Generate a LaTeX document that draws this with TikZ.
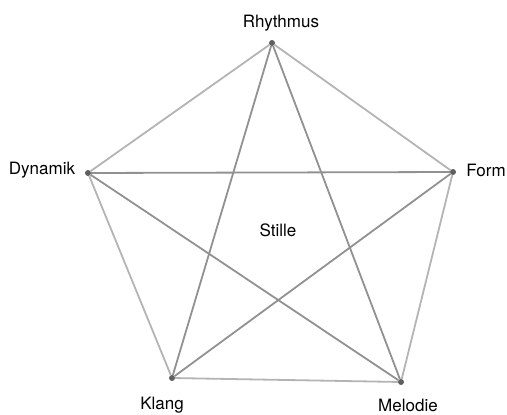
\documentclass[tikz,border=0pt]{standalone}
\usepackage{fontspec}
\setmainfont{TeX Gyre Heros}
\usetikzlibrary{positioning}
\definecolor{edgegray}{RGB}{180,180,180}
\definecolor{stargray}{RGB}{145,145,145}
\definecolor{dotgray}{RGB}{95,95,95}

\begin{document}
\begin{tikzpicture}[
  x=1pt, y=-1pt,
  vertex/.style={circle, fill=dotgray, inner sep=0pt, minimum size=6pt},
  outeredge/.style={draw=edgegray, line width=1.8pt},
  staredge/.style={draw=stargray, line width=1.8pt},
  lbl/.style={font=\fontsize{17}{20}\selectfont, inner sep=2pt}
]
\useasboundingbox (0,0) rectangle (507,415);

% Vertices
\node[vertex] (rhythmus) at (272, 43)  {};
\node[vertex] (form)     at (453, 172) {};
\node[vertex] (melodie)  at (401, 382) {};
\node[vertex] (klang)    at (172, 378) {};
\node[vertex] (dynamik)  at (88, 173)  {};

% Pentagon
\draw[outeredge] (rhythmus) -- (form);
\draw[outeredge] (form)     -- (melodie);
\draw[outeredge] (melodie)  -- (klang);
\draw[outeredge] (klang)    -- (dynamik);
\draw[outeredge] (dynamik)  -- (rhythmus);

% Star
\draw[staredge] (rhythmus) -- (melodie);
\draw[staredge] (rhythmus) -- (klang);
\draw[staredge] (form)     -- (dynamik);
\draw[staredge] (form)     -- (klang);
\draw[staredge] (dynamik)  -- (melodie);

% Labels
\node[lbl] (lrhythmus) at (281, 23)  {Rhythmus};
\node[lbl] (lform)     at (486, 170) {Form};
\node[lbl] (lmelodie)  at (408, 405) {Melodie};
\node[lbl] (lklang)    at (162, 405) {Klang};
\node[lbl] (ldynamik)  at (42, 170)  {Dynamik};
\node[lbl] (stille)    at (278, 230) {Stille};

\end{tikzpicture}
\end{document}
